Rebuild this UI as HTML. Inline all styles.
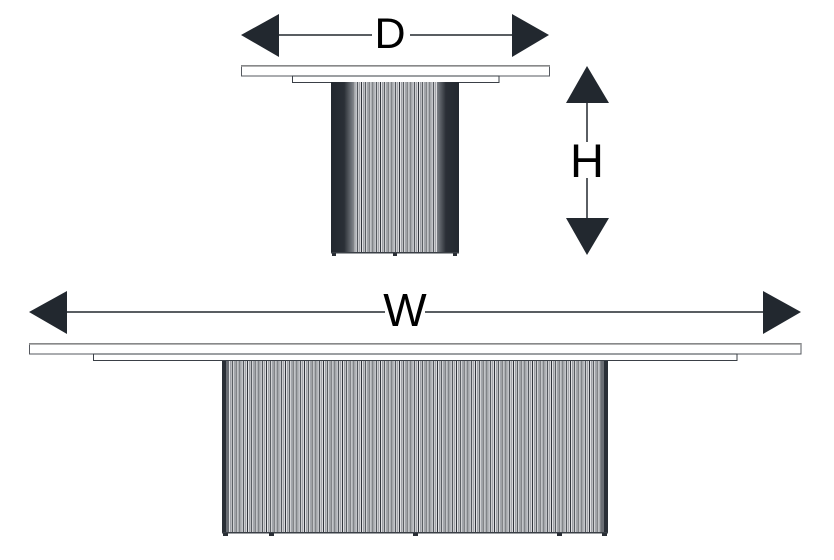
<!DOCTYPE html>
<html><head><meta charset="utf-8"><style>
html,body{margin:0;padding:0;background:#fff;}
svg{display:block;}
text{font-family:"Liberation Sans",sans-serif;fill:#000;}
</style></head><body>
<svg width="834" height="560" viewBox="0 0 834 560" xmlns="http://www.w3.org/2000/svg">
<defs>
<pattern id="st" x="0" y="0" width="3.8" height="10" patternUnits="userSpaceOnUse">
<rect x="0" y="0" width="3.8" height="10" fill="#fff"/>
<rect x="0" y="0" width="1" height="10" fill="#2a2f36"/>
<rect x="1.8" y="0" width="1.4" height="10" fill="#9a9da3"/>
</pattern>
<linearGradient id="tl" x1="0" x2="1" y1="0" y2="0">
<stop offset="0" stop-color="#22282f"/><stop offset="0.6" stop-color="#2a2f36"/><stop offset="1" stop-color="#7a7e84"/>
</linearGradient>
<linearGradient id="tr" x1="1" x2="0" y1="0" y2="0">
<stop offset="0" stop-color="#22282f"/><stop offset="0.6" stop-color="#2a2f36"/><stop offset="1" stop-color="#7a7e84"/>
</linearGradient>
</defs>

<!-- D dimension -->
<line x1="279" y1="35" x2="372" y2="35" stroke="#22282f" stroke-width="1.5"/>
<line x1="410" y1="35" x2="512" y2="35" stroke="#22282f" stroke-width="1.5"/>
<polygon points="241,35 279,14 279,57" fill="#22282f"/>
<polygon points="549,35 512,14 512,57" fill="#22282f"/>
<text x="390" y="48" font-size="43" text-anchor="middle">D</text>

<!-- top table -->
<rect x="241.5" y="65.5" width="308" height="10.5" fill="#fff" stroke="#55595f" stroke-width="1"/>
<line x1="241" y1="66" x2="550" y2="66" stroke="#999" stroke-width="1.5"/>
<rect x="292.5" y="76" width="206.5" height="6.5" fill="#fff" stroke="#3a3f46" stroke-width="1"/>
<rect x="331" y="82" width="128" height="171" fill="url(#st)"/>
<rect x="331" y="82" width="22" height="171" fill="url(#tl)"/>
<rect x="437" y="82" width="22" height="171" fill="url(#tr)"/>
<rect x="331" y="252" width="128" height="1.5" fill="#3a3f46"/>
<rect x="332" y="253" width="4" height="3" fill="#2a2f36"/>
<rect x="393" y="253" width="4" height="3" fill="#2a2f36"/>
<rect x="453" y="253" width="4" height="3" fill="#2a2f36"/>

<!-- H dimension -->
<polygon points="587,66 566,103 609,103" fill="#22282f"/>
<line x1="587" y1="103" x2="587" y2="142" stroke="#22282f" stroke-width="1.5"/>
<text x="587" y="177" font-size="47" text-anchor="middle">H</text>
<line x1="587" y1="178" x2="587" y2="218" stroke="#22282f" stroke-width="1.5"/>
<polygon points="587,255 566,218 609,218" fill="#22282f"/>

<!-- W dimension -->
<line x1="67" y1="312" x2="385" y2="312" stroke="#22282f" stroke-width="1.5"/>
<line x1="425" y1="312" x2="763" y2="312" stroke="#22282f" stroke-width="1.5"/>
<polygon points="29,312 67,291 67,334" fill="#22282f"/>
<polygon points="801,312 763,291 763,334" fill="#22282f"/>
<text x="405" y="326" font-size="46" text-anchor="middle">W</text>

<!-- bottom table -->
<rect x="29.5" y="343.5" width="771.5" height="10.5" fill="#fff" stroke="#55595f" stroke-width="1"/>
<line x1="29" y1="344" x2="801" y2="344" stroke="#999" stroke-width="1.5"/>
<rect x="93.5" y="354" width="643.5" height="6.5" fill="#fff" stroke="#3a3f46" stroke-width="1"/>
<rect x="222" y="361" width="386" height="172" fill="url(#st)"/>
<rect x="222" y="361" width="4" height="172" fill="#2a2f36"/>
<rect x="226" y="361" width="3" height="172" fill="#6a6e74"/>
<rect x="601" y="361" width="3" height="172" fill="#6a6e74"/>
<rect x="604" y="361" width="4" height="172" fill="#2a2f36"/>
<rect x="222" y="532" width="386" height="1.5" fill="#3a3f46"/>
<rect x="223" y="533" width="5" height="3" fill="#2a2f36"/>
<rect x="269" y="533" width="5" height="3" fill="#2a2f36"/>
<rect x="413" y="533" width="5" height="3" fill="#2a2f36"/>
<rect x="557" y="533" width="5" height="3" fill="#2a2f36"/>
<rect x="602" y="533" width="5" height="3" fill="#2a2f36"/>
</svg>
</body></html>
